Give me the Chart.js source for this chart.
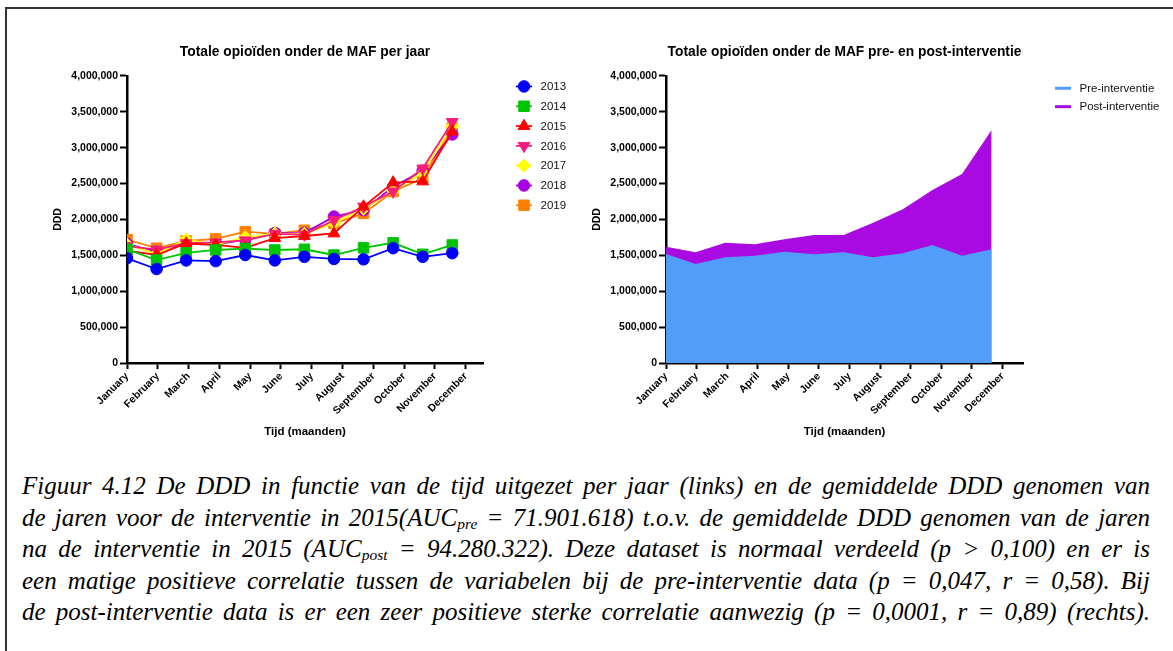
<!DOCTYPE html>
<html>
<head>
<meta charset="utf-8">
<script src="https://cdn.jsdelivr.net/npm/chart.js@4.4.1/dist/chart.umd.min.js"></script>
<style>
  html, body { margin: 0; padding: 0; background: #fff; width: 1173px; height: 651px; overflow: hidden; }
  #frame { position: absolute; left: 5px; top: 7px; width: 1200px; height: 700px; border: 2px solid #333; box-sizing: border-box; }
  canvas { position: absolute; top: 0; }
  #left { left: 0; }
  #right { left: 530px; }
  #caption { position: absolute; left: 22px; top: 470px; width: 1128px;
    font-family: "Liberation Serif", "Times New Roman", serif; font-style: italic;
    font-size: 25px; line-height: 31.6px; color: #000; }
  #caption div { text-align: justify; text-align-last: justify; white-space: nowrap; }
  #caption sub { font-size: 0.62em; vertical-align: -0.22em; line-height: 0; }
</style>
</head>
<body>
<div id="frame"></div>
<canvas id="left" width="590" height="445"></canvas>
<canvas id="right" width="643" height="445"></canvas>
<div id="caption">
  <div>Figuur 4.12 De DDD in functie van de tijd uitgezet per jaar (links) en de gemiddelde DDD genomen van</div>
  <div>de jaren voor de interventie in 2015(AUC<sub>pre</sub> = 71.901.618) t.o.v. de gemiddelde DDD genomen van de jaren</div>
  <div>na de interventie in 2015 (AUC<sub>post</sub> = 94.280.322). Deze dataset is normaal verdeeld (p &gt; 0,100) en er is</div>
  <div>een matige positieve correlatie tussen de variabelen bij de pre-interventie data (p = 0,047, r = 0,58). Bij</div>
  <div>de post-interventie data is er een zeer positieve sterke correlatie aanwezig (p = 0,0001, r = 0,89) (rechts).</div>
</div>
<script>
// Month categories and y-axis range
const months = ['January', 'February', 'March', 'April', 'May', 'June', 'July',
  'August', 'September', 'October', 'November', 'December'];
const yMax = 4000000;
const yStep = 500000;

// Monthly DDD per year
const ddd2013 = [1460000, 1310000, 1430000, 1420000, 1505000, 1430000, 1480000, 1450000, 1445000, 1600000, 1480000, 1530000];
const ddd2014 = [1585000, 1435000, 1535000, 1575000, 1595000, 1575000, 1585000, 1505000, 1605000, 1675000, 1515000, 1645000];
const ddd2015 = [1565000, 1505000, 1665000, 1645000, 1605000, 1740000, 1770000, 1805000, 2180000, 2515000, 2530000, 3225000];
const ddd2016 = [1630000, 1580000, 1670000, 1680000, 1710000, 1800000, 1790000, 1990000, 2180000, 2390000, 2710000, 3360000];
const ddd2017 = [1650000, 1520000, 1720000, 1650000, 1750000, 1800000, 1800000, 1950000, 2150000, 2400000, 2650000, 3300000];
const ddd2018 = [1660000, 1550000, 1660000, 1650000, 1720000, 1810000, 1810000, 2040000, 2130000, 2455000, 2680000, 3185000];
const ddd2019 = [1720000, 1600000, 1700000, 1730000, 1830000, 1800000, 1850000, 1945000, 2085000, 2390000, 2575000, 3275000];

// Mean DDD before and after the 2015 intervention
const preIntervention  = [1519000, 1380000, 1473000, 1496000, 1552000, 1515000, 1543000, 1473000, 1528000, 1645000, 1496000, 1584000];
const postIntervention = [1621000, 1542000, 1677000, 1654000, 1724000, 1784000, 1784000, 1955000, 2142000, 2411000, 2634000, 3247000];

const SANS = '"Liberation Sans", Arial, Helvetica, sans-serif';
Chart.defaults.font.family = SANS;
Chart.defaults.color = '#000';

const points = arr => arr.map((v, i) => ({ x: i, y: v }));

// Key drawn beside the plot: a short line per series, optionally with its marker
const seriesKey = {
  id: 'seriesKey',
  afterDraw(chart, args, o) {
    const { ctx, chartArea } = chart;
    ctx.save();
    chart.data.datasets.forEach((ds, i) => {
      const y = chartArea.top + o.top + i * o.rowGap;
      const x0 = chartArea.right + o.lineStart;
      const x1 = chartArea.right + o.lineEnd;
      ctx.strokeStyle = ds.keyColor;
      ctx.lineWidth = o.lineWidth;
      ctx.beginPath(); ctx.moveTo(x0, y); ctx.lineTo(x1, y); ctx.stroke();
      if (o.markers) {
        ctx.fillStyle = ds.pointBackgroundColor;
        ctx.strokeStyle = ds.pointBorderColor;
        ctx.lineWidth = 1;
        Chart.helpers.drawPoint(ctx, {
          pointStyle: ds.pointStyle, radius: ds.pointRadius,
          rotation: ds.pointRotation || 0, borderWidth: 1
        }, (x0 + x1) / 2, y);
      }
      ctx.fillStyle = '#111';
      ctx.font = o.font;
      ctx.textBaseline = 'middle';
      ctx.textAlign = 'left';
      ctx.fillText(ds.label, chartArea.right + o.textX, y + 0.5);
    });
    ctx.restore();
  }
};

function yAxis(width, titlePad) {
  return {
    type: 'linear', position: 'left', min: 0, max: yMax,
    ticks: { stepSize: yStep, padding: 2, color: '#000',
      font: { size: 10.5, weight: 'bold' },
      callback: v => v.toLocaleString('en-US') },
    grid: { drawOnChartArea: false, tickLength: 7, tickWidth: 2, tickColor: '#000' },
    border: { display: true, color: '#000', width: 2.5 },
    title: { display: true, text: 'DDD', color: '#000',
      font: { size: 10.5, weight: 'bold' }, padding: { top: titlePad, bottom: 0 } },
    afterFit(s) { s.width = width; }
  };
}

function monthAxis(max, height, titlePad) {
  return {
    type: 'linear', position: 'bottom', min: 0, max: max,
    ticks: { stepSize: 1, includeBounds: false, autoSkip: false,
      maxRotation: 45, minRotation: 45, padding: 1, color: '#000',
      font: { size: 10.5, weight: 'bold' },
      callback: v => { const r = Math.round(v); return Math.abs(v - r) < 1e-6 ? months[r] : ''; } },
    grid: { drawOnChartArea: false, tickLength: 6, tickWidth: 2, tickColor: '#000' },
    border: { display: true, color: '#000', width: 2.5 },
    title: { display: true, text: 'Tijd (maanden)', color: '#000',
      font: { size: 11.5, weight: 'bold' }, padding: { top: 0, bottom: titlePad } },
    afterFit(s) { s.height = height; }
  };
}

function chartTitle(text) {
  return { display: true, text: text, fullSize: false, color: '#000',
    font: { size: 13.8, weight: 'bold' }, padding: { top: 43.7, bottom: 15.7 } };
}

function yearSeries(label, values, color, style, radius, rotation) {
  return {
    label: label, data: points(values), xAxisID: 'x', yAxisID: 'y',
    borderColor: color, keyColor: color, backgroundColor: color,
    borderWidth: 1.8, tension: 0, fill: false,
    pointStyle: style, pointRadius: radius, pointRotation: rotation || 0,
    pointBackgroundColor: color, pointBorderColor: color, pointBorderWidth: 1
  };
}

new Chart(document.getElementById('left'), {
  type: 'line',
  data: {
    datasets: [
      yearSeries('2013', ddd2013, '#0000ff', 'circle', 5.8),
      yearSeries('2014', ddd2014, '#00c400', 'rect', 7.4),
      yearSeries('2015', ddd2015, '#ff0000', 'triangle', 6.8),
      yearSeries('2016', ddd2016, '#f81c7c', 'triangle', 6.8, 180),
      yearSeries('2017', ddd2017, '#ffff00', 'rectRot', 6.6),
      yearSeries('2018', ddd2018, '#a800e2', 'circle', 5.8),
      yearSeries('2019', ddd2019, '#ff8000', 'rect', 7.4)
    ]
  },
  options: {
    responsive: false, animation: false, events: [],
    layout: { padding: { left: 0, right: 107, top: 0, bottom: 0 } },
    scales: {
      x: { type: 'linear', display: false, min: 0, max: 12.04 },
      xt: monthAxis(11.56, 82, 6.5),
      y: yAxis(127, 52)
    },
    plugins: {
      legend: { display: false },
      tooltip: { enabled: false },
      title: chartTitle('Totale opioïden onder de MAF per jaar'),
      seriesKey: { top: 10.5, rowGap: 19.8, lineStart: 33, lineEnd: 49, lineWidth: 1.8,
        markers: true, textX: 57.5, font: '11.5px ' + SANS }
    }
  },
  plugins: [seriesKey]
});

function areaSeries(label, values, color) {
  return {
    label: label, data: points(values), xAxisID: 'x', yAxisID: 'y',
    borderColor: color, keyColor: color, backgroundColor: color,
    borderWidth: 0, pointRadius: 0, tension: 0, fill: 'origin'
  };
}

new Chart(document.getElementById('right'), {
  type: 'line',
  data: {
    datasets: [
      areaSeries('Pre-interventie', preIntervention, '#539dfa'),
      areaSeries('Post-interventie', postIntervention, '#aa0ae2')
    ]
  },
  options: {
    responsive: false, animation: false, events: [],
    layout: { padding: { left: 0, right: 150, top: 0, bottom: 0 } },
    scales: {
      x: { type: 'linear', display: false, min: 0, max: 12.06 },
      xt: monthAxis(11.67, 82, 6.5),
      y: yAxis(136, 60.7)
    },
    plugins: {
      legend: { display: false },
      tooltip: { enabled: false },
      title: chartTitle('Totale opioïden onder de MAF pre- en post-interventie'),
      seriesKey: { top: 12.3, rowGap: 18.4, lineStart: 32, lineEnd: 48, lineWidth: 3,
        markers: false, textX: 56.5, font: '11.5px ' + SANS }
    }
  },
  plugins: [seriesKey]
});
</script>
</body>
</html>
